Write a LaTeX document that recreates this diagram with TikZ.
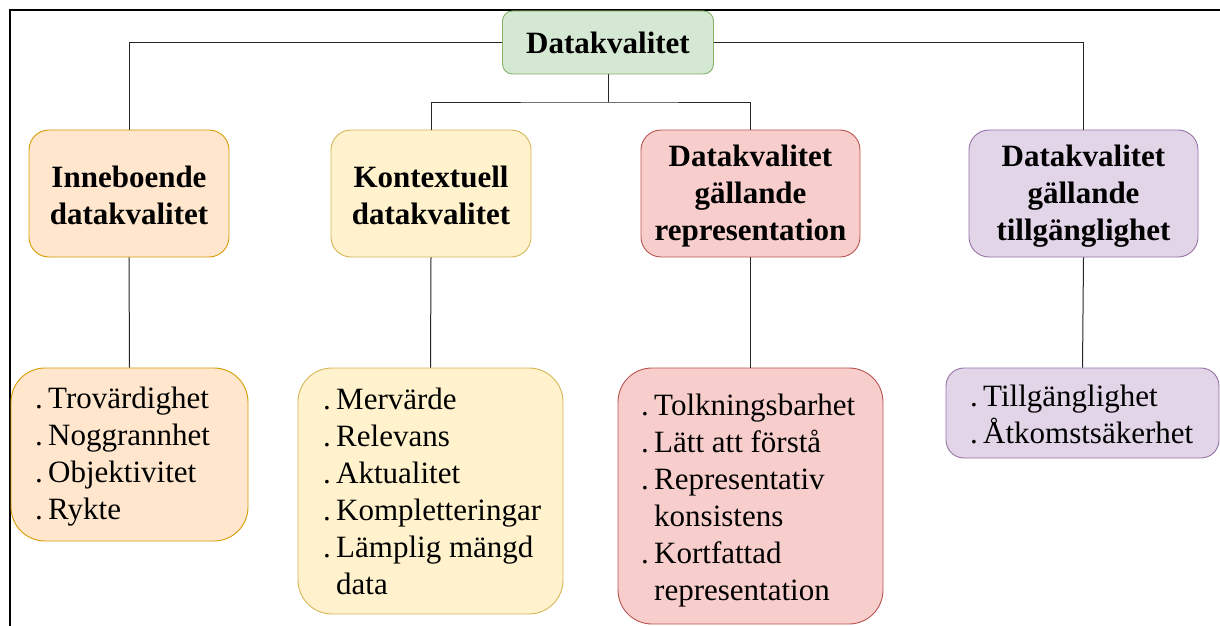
\documentclass[tikz,border=0pt]{standalone}
\usepackage{fontspec}
\setmainfont{Liberation Serif}
\definecolor{gfill}{HTML}{D5E8D4}\definecolor{gdraw}{HTML}{82B366}
\definecolor{ofill}{HTML}{FFE6CC}\definecolor{odraw}{HTML}{D79B00}
\definecolor{yfill}{HTML}{FFF2CC}\definecolor{ydraw}{HTML}{D6B656}
\definecolor{rfill}{HTML}{F8CECC}\definecolor{rdraw}{HTML}{B85450}
\definecolor{pfill}{HTML}{E1D5E7}\definecolor{pdraw}{HTML}{9673A6}
\newcommand{\itm}{\makebox[13pt][l]{.}}
\newcommand{\cnt}{\hspace*{13pt}}
\begin{document}
\begin{tikzpicture}[x=1pt,y=-1pt,
  box/.style={draw, line width=0.9pt, rounded corners=#1, inner sep=0pt},
  box/.default=20pt,
  title/.style={font=\fontsize{31}{37}\selectfont\bfseries, align=center, inner sep=0pt},
  items/.style={font=\fontsize{31}{37}\selectfont, align=left, inner sep=0pt, anchor=west},
  conn/.style={draw=black!85, line width=1pt},
  frame/.style={draw=black, line width=2pt}]
\useasboundingbox (0,0) rectangle (1220,626);
\draw[frame] (10,627) -- (10,10) -- (1221,10);
% top
\node[box=10pt, fill=gfill, draw=gdraw, minimum width=211pt, minimum height=63pt] (top) at (608,42.5) {};
\node[title] (topt) at (608,43) {Datakvalitet};
% level 1
\node[box, fill=ofill, draw=odraw, minimum width=200pt, minimum height=127pt] (n1) at (129,193.5) {};
\node[title] (n1t) at (129,195) {Inneboende\\datakvalitet};
\node[box, fill=yfill, draw=ydraw, minimum width=200pt, minimum height=127pt] (n2) at (431,193.5) {};
\node[title] (n2t) at (431,195) {Kontextuell\\datakvalitet};
\node[box, fill=rfill, draw=rdraw, minimum width=219pt, minimum height=127pt] (n3) at (750.5,193.5) {};
\node[title] (n3t) at (750.5,196) {Datakvalitet\\gällande\\representation};
\node[box, fill=pfill, draw=pdraw, minimum width=229pt, minimum height=127pt] (n4) at (1083.5,193.5) {};
\node[title] (n4t) at (1083.5,196) {Datakvalitet\\gällande\\tillgänglighet};
% level 2
\node[box=34pt, fill=ofill, draw=odraw, minimum width=237pt, minimum height=173pt] (l1) at (129.5,454.5) {};
\node[items] (l1t) at (35,457) {\itm Trovärdighet\\\itm Noggrannhet\\\itm Objektivitet\\\itm Rykte};
\node[box=34pt, fill=yfill, draw=ydraw, minimum width=265pt, minimum height=246pt] (l2) at (430.5,491) {};
\node[items] (l2t) at (323,491) {\itm Mervärde\\\itm Relevans\\\itm Aktualitet\\\itm Kompletteringar\\\itm Lämplig mängd\\\cnt data};
\node[box=34pt, fill=rfill, draw=rdraw, minimum width=265pt, minimum height=256pt] (l3) at (750.5,496) {};
\node[items] (l3t) at (641,501) {\itm Tolkningsbarhet\\\itm Lätt att förstå\\\itm Representativ\\\cnt konsistens\\\itm Kortfattad\\\cnt representation};
\node[box=18pt, fill=pfill, draw=pdraw, minimum width=273pt, minimum height=90pt] (l4) at (1082.5,413) {};
\node[items] (l4t) at (970,414) {\itm Tillgänglighet\\\itm Åtkomstsäkerhet};
% connectors
\coordinate (br) at (608,102);
\draw[conn] (top.west) -| (n1.north);
\draw[conn] (top.east) -| (n4.north);
\draw[conn] (top.south) -- (br);
\draw[conn] (n2.north) |- (br) -| (n3.north);
\draw[conn] (n1.south) -- (l1.north);
\draw[conn] (n2.south) -- (l2.north);
\draw[conn] (n3.south) -- (l3.north);
\draw[conn] (n4.south) -- (l4.north);
\end{tikzpicture}
\end{document}
